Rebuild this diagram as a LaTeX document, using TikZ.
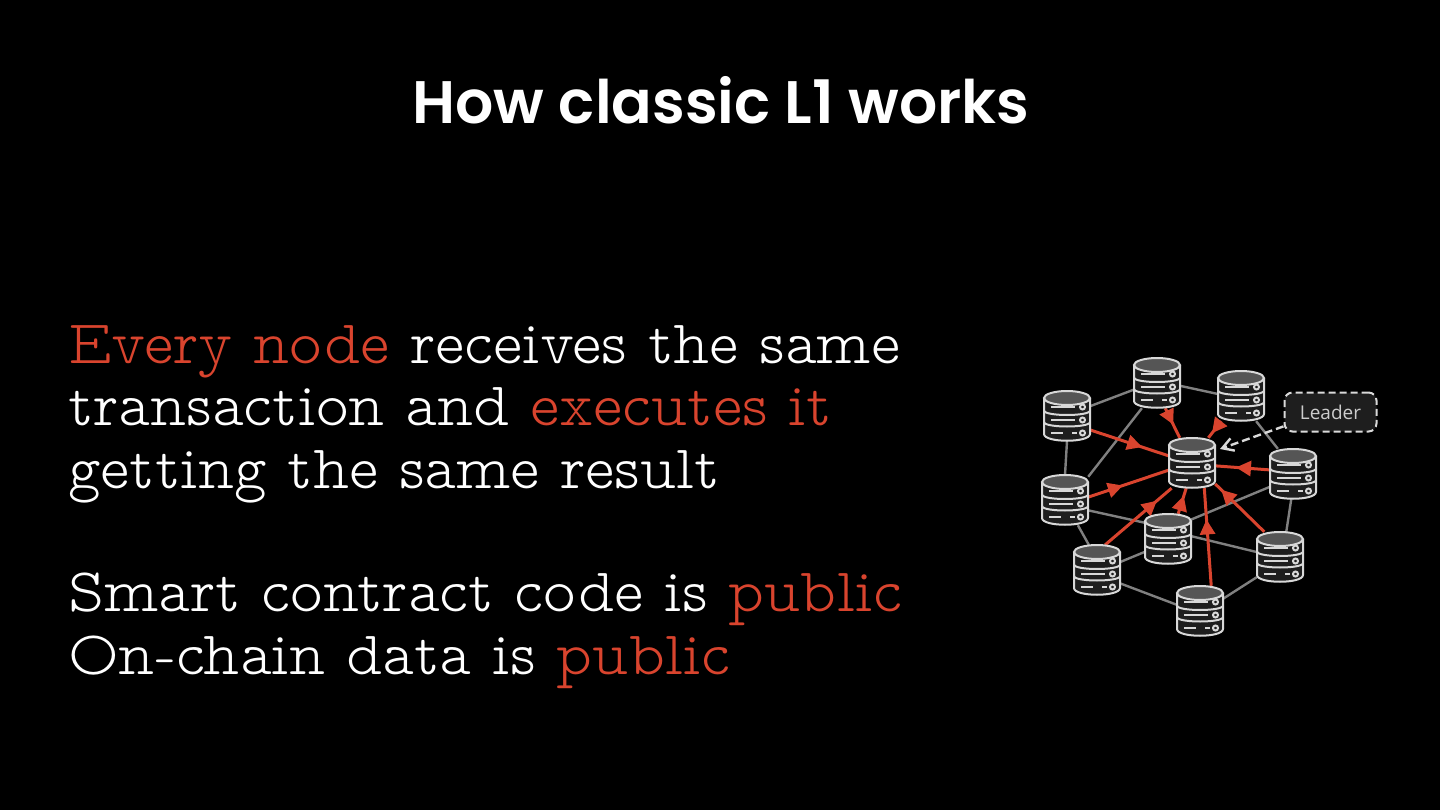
\documentclass[tikz,border=0pt]{standalone}
\usepackage{fontspec}
\setmainfont{Latin Modern Mono Prop Light}[WordSpace=0.96]
\newfontfamily\titlefont{Poppins SemiBold}
\newfontfamily\labelfont{Open Sans}
\usetikzlibrary{arrows.meta,decorations.markings}
\definecolor{accent}{HTML}{D9442E}
\definecolor{dbfill}{HTML}{1E1E1E}
\definecolor{dbtop}{HTML}{555555}
\definecolor{dbline}{HTML}{D8D8D8}
\definecolor{linkgray}{HTML}{808080}
\newcommand{\hot}[1]{\textcolor{accent}{#1}}
\tikzset{
    dbbox/.style={inner sep=0pt, minimum width=46pt, minimum height=50pt},
    link/.style={draw=linkgray, line width=2.4pt},
    flow/.style={draw=accent, line width=3pt, postaction={decorate},
        decoration={markings, mark=at position #1 with {\arrow{Triangle[length=15pt,width=15pt]}}}},
    leaderbox/.style={draw=white!85!black, fill=dbfill, rounded corners=8pt, line width=2pt,
        dash pattern=on 7pt off 4pt, minimum width=92pt, minimum height=39pt, inner sep=0pt,
        text=white!80!black, font=\labelfont\fontsize{19}{21}\selectfont},
    body/.style={anchor=north west, align=left, text=white, inner sep=0pt,
        font=\fontsize{62}{62.5}\selectfont},
    dbicon/.pic={
        \draw[dbline, fill=dbfill, line width=2pt] (-23,-18) -- (-23,18)
            .. controls (-23,27) and (23,27) .. (23,18) -- (23,-18);
        \draw[dbline, fill=dbtop, line width=2pt] (0,-18) ellipse (23pt and 7pt);
        \foreach \y in {-5.5,6} {
            \draw[dbline, line width=2pt] (-23,\y) .. controls (-23,\y+6) and (23,\y+6) .. (23,\y);
        }
        \foreach \y in {-9,4} {
            \draw[dbline, line width=1.8pt] (-16,\y) -- (8,\y);
        }
        \draw[dbline, line width=1.8pt] (-16,17) -- (-4,17);
        \draw[dbline, line width=1.8pt] (5,17) -- (10,17);
        \foreach \y in {-9,4,17} {
            \draw[dbline, line width=2pt] (15.5,\y) circle (2.5pt);
        }
    }
}
\begin{document}
\begin{tikzpicture}[x=1pt, y=-1pt]
\fill[black] (0,0) rectangle (1440,810);
\useasboundingbox (0,0) rectangle (1440,810);

% Title
\node[text=white, font=\titlefont\fontsize{60}{60}\selectfont] (title) at (721,100) {How classic L1 works};

% Text
\node[body] (intro) at (68,325) {\hot{Every node} receives the same\\transaction and \hot{executes it}\\getting the same result};
\node[body] (public) at (68,573) {Smart contract code is \hot{public}\\On-chain data is \hot{public}};

% Servers
\foreach \name/\x/\y in {left/1067/416, top/1157/383, right/1241/396, mid/1192/463, east/1293/474,
    west/1065/500, inner/1168/539, low/1097/570, south/1280/557, base/1200/611} {
    \node[dbbox] (\name) at (\x,\y) {};
}

% Gray links
\foreach \a/\sa/\b/\sb in {left/23/top/196, top/353/right/175, top/239/west/45, left/270/west/90,
    right/301/east/121, west/336/inner/145, west/297/low/108, low/19/inner/209, low/330/base/165,
    inner/40/east/209, inner/7/south/168, east/266/south/76, south/221/base/28} {
    \draw[link] (\a.\sa) -- (\b.\sb);
}

% Red links
\foreach \a/\sa/\sb/\p in {left/329/163/0.66, top/288/116/0.55, right/232/57/0.72, east/170/353/0.62,
    west/7/197/0.43, low/72/231/0.78, inner/68/257/0.7, south/122/318/0.88, base/66/296/0.68} {
    \draw[flow=\p] (\a.\sa) -- (mid.\sb);
}

% Icons on top
\foreach \name in {left, top, right, mid, east, west, inner, low, south, base} {
    \pic at (\name) {dbicon};
}

% Leader
\node[leaderbox] (leader) at (1330.5,412) {Leader};
\coordinate (leadertip) at ([shift={(28,-14)}]mid.center);
\draw[white!85!black, line width=2.4pt, dash pattern=on 8pt off 4pt, -{Straight Barb[length=11pt,width=13pt]}]
    (leader.197) -- (leadertip);

\end{tikzpicture}
\end{document}
